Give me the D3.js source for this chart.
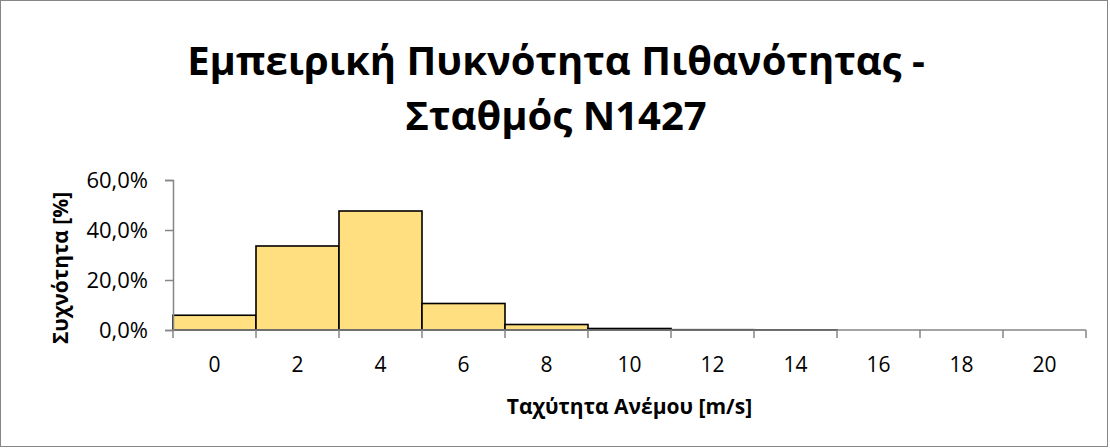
<!DOCTYPE html>
<html lang="el">
<head>
<meta charset="utf-8">
<title>Εμπειρική Πυκνότητα Πιθανότητας</title>
<script src="https://cdn.jsdelivr.net/npm/d3@7"></script>
<style>
	body { margin: 0; background: #fff; }
	text { font-family: "Open Sans", "DejaVu Sans", sans-serif; fill: #000; }
</style>
</head>
<body>
<svg id="chart"></svg>
<script>
	// wind speed bins (m/s) and relative frequency (%)
	var speeds = [0, 2, 4, 6, 8, 10, 12, 14, 16, 18, 20];
	var freq = [5.9, 33.6, 47.6, 10.6, 2.2, 0.6, 0.12, 0.06, 0, 0, 0];
	var yTicks = [0, 20, 40, 60];
	var titleLines = ["Εμπειρική Πυκνότητα Πιθανότητας -", "Σταθμός Ν1427"];
	var xTitle = "Ταχύτητα Ανέμου [m/s]";
	var yTitle = "Συχνότητα [%]";

	var width = 1110, height = 448;
	var plot = {left: 173, right: 1086, top: 180, bottom: 330};

	var svg = d3.select("#chart")
		.attr("width", width)
		.attr("height", height);

	svg.append("rect")
		.attr("x", 0.5).attr("y", 0.5)
		.attr("width", width - 3).attr("height", height - 2)
		.attr("fill", "#fff")
		.attr("stroke", "#868686")
		.attr("stroke-width", 1);

	var data = speeds.map((s, i) => ({s: s, v: freq[i]}));

	var x = d3.scaleBand()
		.domain(speeds)
		.range([plot.left, plot.right])
		.padding(0);

	var y = d3.scaleLinear()
		.domain([0, 60])
		.range([plot.bottom, plot.top]);

	// bars
	svg.append("g")
		.selectAll("rect")
		.data(data.filter(d => d.v > 0))
		.enter()
		.append("rect")
		.attr("x", d => x(d.s))
		.attr("y", d => y(d.v))
		.attr("width", x.bandwidth())
		.attr("height", d => y(0) - y(d.v))
		.attr("fill", "#ffdf7f")
		.attr("stroke", "#000")
		.attr("stroke-width", 1.6);

	// y axis
	var yAxis = d3.axisLeft(y)
		.tickValues(yTicks)
		.tickSize(8)
		.tickPadding(17)
		.tickFormat(d => d3.format(".1f")(d).replace(".", ",") + "%");

	var gy = svg.append("g")
		.attr("transform", "translate(" + plot.left + ",0)")
		.call(yAxis);
	gy.select(".domain").attr("stroke", "#868686").attr("stroke-width", 1.5);
	gy.selectAll(".tick line").attr("stroke", "#868686").attr("stroke-width", 1.5);
	gy.selectAll(".tick text")
		.style("font-size", "22px")
		.attr("fill", "#000");

	// x axis: ticks on the band edges, labels at band centres
	var gx = svg.append("g")
		.attr("transform", "translate(0," + plot.bottom + ")");
	gx.append("line")
		.attr("x1", plot.left).attr("x2", plot.right)
		.attr("stroke", "#868686").attr("stroke-width", 1.5);
	var edges = speeds.map(s => x(s)).concat([x(speeds[speeds.length - 1]) + x.bandwidth()]);
	gx.selectAll(".edge")
		.data(edges)
		.enter()
		.append("line")
		.attr("class", "edge")
		.attr("x1", d => d).attr("x2", d => d)
		.attr("y1", 0).attr("y2", 8)
		.attr("stroke", "#868686").attr("stroke-width", 1.5);
	gx.selectAll(".lbl")
		.data(speeds)
		.enter()
		.append("text")
		.attr("class", "lbl")
		.attr("x", d => x(d) + x.bandwidth() / 2)
		.attr("y", 42)
		.attr("text-anchor", "middle")
		.style("font-size", "21px")
		.text(d => d);

	// titles
	svg.selectAll(".title")
		.data(titleLines)
		.enter()
		.append("text")
		.attr("class", "title")
		.attr("x", 556)
		.attr("y", (d, i) => 75 + i * 55)
		.attr("text-anchor", "middle")
		.style("font-size", "40px")
		.style("font-weight", "bold")
		.text(d => d);

	svg.append("text")
		.attr("x", (plot.left + plot.right) / 2)
		.attr("y", 414)
		.attr("text-anchor", "middle")
		.style("font-size", "21px")
		.style("font-weight", "bold")
		.text(xTitle);

	svg.append("text")
		.attr("transform", "translate(68,268) rotate(-90)")
		.attr("text-anchor", "middle")
		.style("font-size", "21px")
		.style("font-weight", "bold")
		.text(yTitle);
</script>
</body>
</html>
